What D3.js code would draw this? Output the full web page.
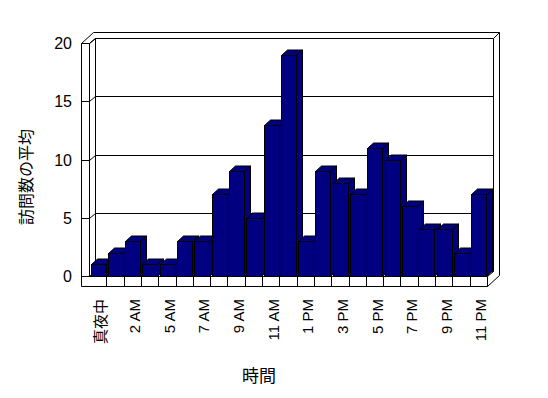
<!DOCTYPE html>
<html lang="ja">
<head>
<meta charset="UTF-8">
<title>訪問数の平均</title>
<script src="https://d3js.org/d3.v7.min.js"></script>
<style>
  body { margin: 0; background: #fff; }
  svg { display: block; }
  text { font-family: "Liberation Sans", Arial, "Noto Sans CJK JP", sans-serif; fill: #000; }
  .frame line, .frame path { stroke: #000; stroke-width: 1; fill: none; }
</style>
</head>
<body>
<svg width="548" height="398"></svg>
<script>
// hours (4 AM has no data)
const categories = ["真夜中", "1 AM", "2 AM", "3 AM", "5 AM", "6 AM", "7 AM", "8 AM", "9 AM", "10 AM", "11 AM", "正午",
                    "1 PM", "2 PM", "3 PM", "4 PM", "5 PM", "6 PM", "7 PM", "8 PM", "9 PM", "10 PM", "11 PM"];
const visits = [1, 2, 3, 1, 1, 3, 3, 7, 9, 5, 13, 19, 3, 9, 8, 7, 11, 10, 6, 4, 4, 2, 7];
const yTicks = [0, 5, 10, 15, 20];
const yTitle = "訪問数の平均";
const xTitle = "時間";

const svg = d3.select("svg");

// front plane of the box
const left = 89.5, right = 487.5, outerLeft = 81.5, floorBottom = 286.5;
const d1 = [6, -5];      // depth to the back wall
const d2 = [12, -11];    // depth incl. wall thickness

const x = d3.scaleBand().domain(categories).range([left, right]);
const y = d3.scaleLinear().domain([0, 20]).range([276.5, 43.5]);
const y0 = y(0), yTop = y(20);
const py = v => Math.round(y(v) - 0.5) + 0.5;   // keep lines on pixel centres

const frame = svg.append("g").attr("class", "frame");
const line = (a, b) => frame.append("line")
    .attr("x1", a[0]).attr("y1", a[1]).attr("x2", b[0]).attr("y2", b[1]);

// outer box
frame.append("path").attr("d", d3.line()([
    [outerLeft, floorBottom], [outerLeft, yTop], [outerLeft + d2[0], yTop + d2[1]],
    [right + d2[0], yTop + d2[1]], [right + d2[0], floorBottom + d2[1]],
    [right, floorBottom]
]) + "Z");

// left wall front face / floor front face
frame.append("path").attr("d", d3.line()([
    [left, yTop], [left, y0], [right, y0], [right, floorBottom]
]));
// back wall inner plane
frame.append("path").attr("d", d3.line()([
    [left + d1[0], y0 + d1[1]], [left + d1[0], yTop + d1[1]],
    [right + d1[0], yTop + d1[1]], [right + d1[0], y0 + d1[1]], [left + d1[0], y0 + d1[1]]
]));
line([left, yTop], [left + d1[0], yTop + d1[1]]);
line([right + d1[0], yTop + d1[1]], [right + d2[0], yTop + d2[1]]);
line([left, y0], [left + d1[0], y0 + d1[1]]);
line([right, y0], [right + d1[0], y0 + d1[1]]);

// gridlines: front tick, wall diagonal, back wall line
yTicks.forEach(v => {
    const yy = py(v);
    line([outerLeft, yy], [left, yy]);
    if (v > 0) {
        line([left, yy], [left + d1[0], yy + d1[1]]);
        line([left + d1[0], yy + d1[1]], [right + d1[0], yy + d1[1]]);
    }
});

// floor category dividers
categories.forEach((c, i) => {
    const xx = Math.round(x(c) - 0.5) + 0.5;
    if (i > 0) line([xx, y0], [xx, floorBottom]);
});

// bars
const bw = 15, bd = [6, -5.5];
const bars = svg.append("g")
    .attr("fill", "#000080").attr("stroke", "#000").attr("stroke-width", 1)
    .attr("stroke-linejoin", "miter");
categories.forEach((c, i) => {
    const fx = Math.round(x(c) + 1) + 0.5, top = py(visits[i]);
    const g = bars.append("g");
    g.append("path").attr("d", d3.line()([
        [fx + bw, top], [fx + bw + bd[0], top + bd[1]],
        [fx + bw + bd[0], y0 + bd[1]], [fx + bw, y0]
    ]) + "Z");
    g.append("path").attr("d", d3.line()([
        [fx, top], [fx + bd[0], top + bd[1]],
        [fx + bw + bd[0], top + bd[1]], [fx + bw, top]
    ]) + "Z");
    g.append("rect").attr("x", fx).attr("y", top)
        .attr("width", bw).attr("height", y0 - top);
});

// y tick labels
svg.append("g").selectAll("text").data(yTicks).join("text")
    .attr("x", 72).attr("y", d => y(d))
    .attr("text-anchor", "end").attr("dominant-baseline", "central")
    .attr("font-size", 16)
    .text(d => d);

// x tick labels (every other hour)
svg.append("g").selectAll("text")
    .data(categories.filter((c, i) => i % 2 === 0)).join("text")
    .attr("transform", d => `translate(${x(d) + x.bandwidth() / 2 + 2},299) rotate(-90)`)
    .attr("text-anchor", "end").attr("dominant-baseline", "central")
    .attr("font-size", 15)
    .text(d => d);

// axis titles
svg.append("text")
    .attr("transform", "translate(26,177) rotate(-90)")
    .attr("text-anchor", "middle").attr("dominant-baseline", "central")
    .attr("font-size", 16)
    .text(yTitle);
svg.append("text")
    .attr("x", 259).attr("y", 376)
    .attr("text-anchor", "middle").attr("dominant-baseline", "central")
    .attr("font-size", 17)
    .text(xTitle);
</script>
</body>
</html>
